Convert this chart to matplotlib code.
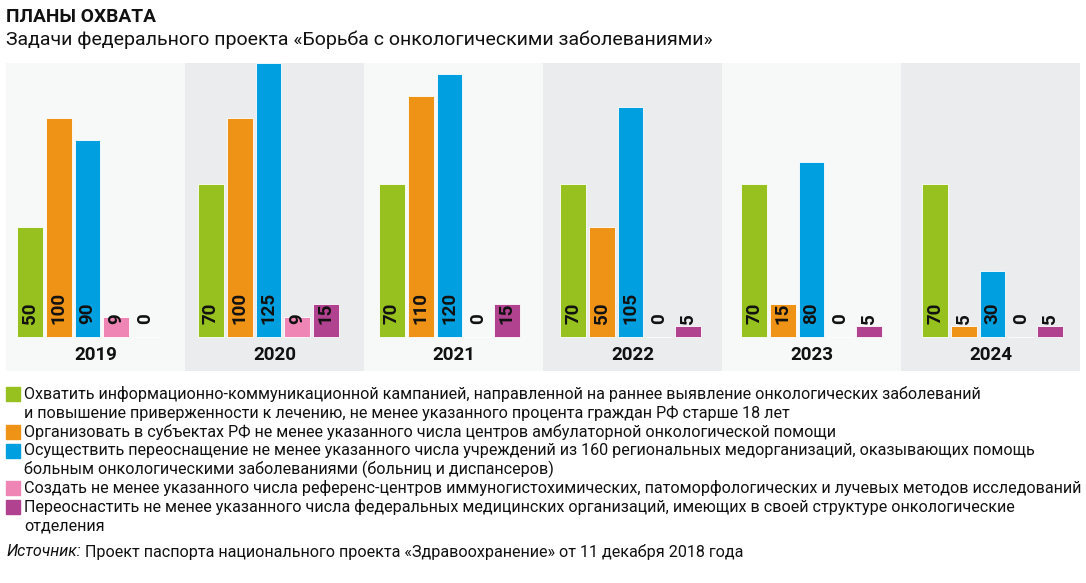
import matplotlib
matplotlib.use("Agg")
import matplotlib.pyplot as plt
from matplotlib.patches import Rectangle

plt.rcParams['font.family'] = ['Roboto', 'DejaVu Sans']

years = ['2019', '2020', '2021', '2022', '2023', '2024']
inform = [50, 70, 70, 70, 70, 70]
ambul = [100, 100, 110, 50, 15, 5]
reequip = [90, 125, 120, 105, 80, 30]
refcenters = [9, 9, 0, 0, 0, 0]
federal = [0, 15, 15, 5, 5, 5]

series = [inform, ambul, reequip, refcenters, federal]
colors = ['#96c11f', '#ef9317', '#009fdf', '#ee85b5', '#b0428f']
legend_lines = [
    ['Охватить информационно-коммуникационной кампанией, направленной на раннее выявление онкологических заболеваний',
     'и повышение приверженности к лечению, не менее указанного процента граждан РФ старше 18 лет'],
    ['Организовать в субъектах РФ не менее указанного числа центров амбулаторной онкологической помощи'],
    ['Осуществить переоснащение не менее указанного числа учреждений из 160 региональных медорганизаций, оказывающих помощь',
     'больным онкологическими заболеваниями (больниц и диспансеров)'],
    ['Создать не менее указанного числа референс-центров иммуногистохимических, патоморфологических и лучевых методов исследований'],
    ['Переоснастить не менее указанного числа федеральных медицинских организаций, имеющих в своей структуре онкологические',
     'отделения'],
]

W, H = 1086, 583
fig = plt.figure(figsize=(W / 100, H / 100), dpi=100)
ax = fig.add_axes([6 / W, 1 - 371 / H, 1074 / W, 308 / H])
ax.set_xlim(0, 6)
ax.set_ylim(-15.5, 125)
ax.axis('off')

bg = ['#f7f8f8', '#ebeced']
for i in range(len(years)):
    ax.add_patch(Rectangle((i, -15.5), 1, 140.5, color=bg[i % 2], zorder=0, lw=0))
    ax.text(i + 0.5, -8, years[i], ha='center', va='center', fontsize=13.5,
            fontweight='bold', color='#111111')

# bar groups are spaced a touch wider than the panels
bw = 0.145
step = 0.1606
first = 0.134
period = 1.0112
for j, (vals, c) in enumerate(zip(series, colors)):
    xs = [first + i * period + j * step for i in range(len(years))]
    ax.bar(xs, vals, width=bw, color=c, edgecolor='white', linewidth=0.6, zorder=2)
    for x, v in zip(xs, vals):
        ax.text(x, 6, str(v), rotation=90, ha='center', va='bottom', fontsize=13.5,
                fontweight='bold', color='#111111', zorder=3)

fig.text(6 / W, 1 - 17 / H, 'ПЛАНЫ ОХВАТА', fontsize=13.8, fontweight='bold',
         va='center', ha='left', color='#111111')
fig.text(6 / W, 1 - 40 / H, 'Задачи федерального проекта «Борьба с онкологическими заболеваниями»',
         fontsize=14, va='center', ha='left', color='#111111')

y = 394
lh = 18.9
for lines, c in zip(legend_lines, colors):
    fig.patches.append(Rectangle((6 / W, 1 - (y + 7) / H), 14 / W, 14 / H,
                                 transform=fig.transFigure, color=c, figure=fig))
    for ln in lines:
        fig.text(24 / W, 1 - y / H, ln, fontsize=11.6, va='center', ha='left', color='#111111')
        y += lh

src = fig.text(6 / W, 1 - 552 / H, 'Источник:', fontsize=11.6, style='italic', va='center',
               ha='left', color='#111111')
r = fig.canvas.get_renderer()
ext = src.get_window_extent(r)
fig.text((ext.x1 + 4) / W, 1 - 552 / H,
         'Проект паспорта национального проекта «Здравоохранение» от 11 декабря 2018 года',
         fontsize=11.6, va='center', ha='left', color='#111111')

fig.savefig('out.png', dpi=100, facecolor='white')
